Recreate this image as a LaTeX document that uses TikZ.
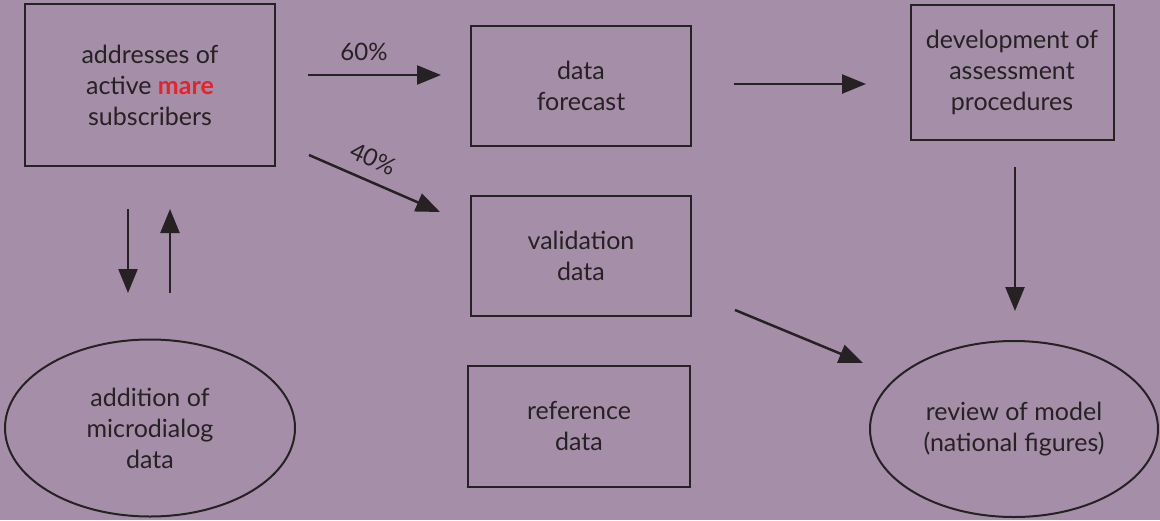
\documentclass[tikz,border=0pt]{standalone}
\usepackage{fontspec}
\setmainfont{Lato}
\usetikzlibrary{shapes.geometric,arrows.meta}
\definecolor{bgmauve}{RGB}{165,143,168}
\definecolor{ink}{RGB}{38,33,35}
\definecolor{marered}{RGB}{232,34,42}
\tikzset{
    box/.style={draw=ink,line width=2pt,rectangle,align=center,text=ink,font=\fontsize{25}{31}\selectfont},
    oval/.style={draw=ink,line width=2pt,ellipse,align=center,text=ink,font=\fontsize{25}{31}\selectfont,inner sep=0pt},
    arr/.style={draw=ink,line width=2.5pt,-{Triangle[length=24pt,width=19pt]}},
    pct/.style={text=ink,font=\fontsize{24}{28}\selectfont}
}
\begin{document}
\begin{tikzpicture}[x=1pt,y=-1pt]
    \fill[bgmauve] (0,0) rectangle (1160,520);
    \useasboundingbox (0,0) rectangle (1160,520);
    % boxes
    \node[box,minimum width=250pt,minimum height=162pt] (addr) at (150,85) {addresses of\\active \textcolor{marered}{\textbf{mare}}\\subscribers};
    \node[box,minimum width=220pt,minimum height=120pt] (fcst) at (581,86) {data\\forecast};
    \node[box,minimum width=203pt,minimum height=135pt] (dev) at (1012,72) {development of\\assessment\\procedures};
    \node[box,minimum width=220pt,minimum height=120pt] (valid) at (581,256) {validation\\data};
    \node[box,minimum width=222pt,minimum height=121pt] (ref) at (579,426) {reference\\data};
    % ellipses
    \node[oval,minimum width=290pt,minimum height=177pt] (mdlg) at (150,428) {addition of\\microdialog\\data};
    \node[oval,minimum width=288pt,minimum height=176pt] (review) at (1014,429) {review of model\\(national figures)};
    % arrow ends
    \coordinate (a60) at (308,75);
    \coordinate (b60) at (441,75);
    \coordinate (a40) at (309,155);
    \coordinate (b40) at (440,212);
    \coordinate (afd) at (734,84);
    \coordinate (bfd) at (866,84);
    \coordinate (adr) at (1015,167);
    \coordinate (bdr) at (1015,311);
    \coordinate (avr) at (735,310);
    \coordinate (bvr) at (863,363);
    \coordinate (adn) at (128,209);
    \coordinate (bdn) at (128,293);
    \coordinate (aup) at (170,293);
    \coordinate (bup) at (170,209);
    % arrows
    \draw[arr] (a60) -- (b60);
    \node[pct] (l60) at (364,52) {60\%};
    \draw[arr] (a40) -- (b40);
    \node[pct,rotate=-24,inner sep=0pt] (l40) at (373,159) {40\%};
    \draw[arr] (afd) -- (bfd);
    \draw[arr] (adr) -- (bdr);
    \draw[arr] (avr) -- (bvr);
    \draw[arr] (adn) -- (bdn);
    \draw[arr] (aup) -- (bup);
\end{tikzpicture}
\end{document}
